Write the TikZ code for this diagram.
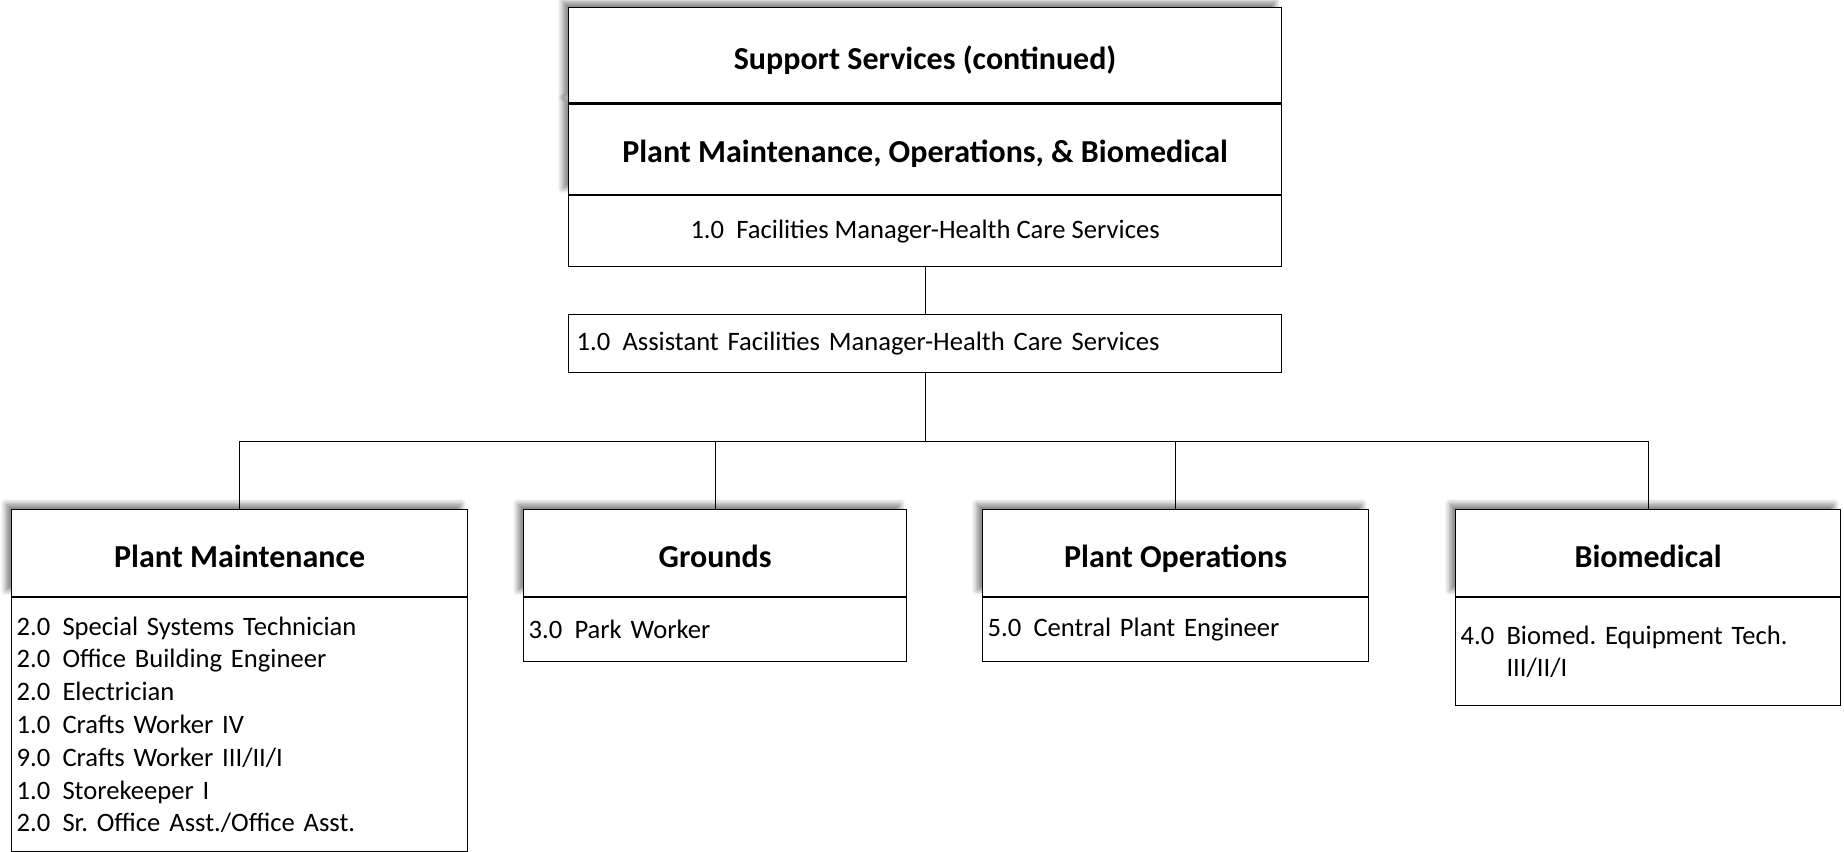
\documentclass[tikz,border=0pt]{standalone}
\usepackage{fontspec}
\setmainfont{Carlito}
\usetikzlibrary{positioning,shadows.blur}
\frenchspacing
\newcommand{\ftegap}{\hspace{0.46em}}

\begin{document}
\begin{tikzpicture}[x=0.5pt,y=-0.5pt,line width=0.6pt,
  every node/.style={font=\fontsize{13.3}{16.4}\selectfont},
  headbox/.style={draw,fill=white,inner sep=0pt,text height=14pt,text depth=0pt,
    font=\fontsize{16}{19}\selectfont\bfseries,
    blur shadow={shadow xshift=-3pt,shadow yshift=3pt,shadow blur radius=2.5pt,shadow opacity=45}},
  listbox/.style={draw,fill=white,inner xsep=2.5pt,inner ysep=0pt,align=left}]
\useasboundingbox (0,0) rectangle (1844,852);
% top box
\node[headbox,anchor=north west,minimum width=356.5pt,minimum height=45.25pt,text height=13pt] (dept) at (568,103.5) {Plant Maintenance, Operations, \& Biomedical};
\node[headbox,minimum width=356.5pt,minimum height=47.75pt,above=0pt of dept] (title) {Support Services (continued)};
\node[draw,fill=white,inner sep=0pt,minimum width=356.5pt,minimum height=35.5pt,below=0pt of dept] (mgr) {1.0\ftegap Facilities Manager-Health Care Services};
\node[listbox,anchor=north west,inner xsep=4pt,text width=348.5pt,minimum height=29pt] (asst) at (568,314) {1.0\ftegap Assistant Facilities Manager-Health Care Services};
% units
\node[headbox,anchor=north west,minimum width=228pt,minimum height=43.5pt] (pmhead) at (11,509) {Plant Maintenance};
\node[listbox,text width=223pt,minimum height=127pt,below=0pt of pmhead] (pmlist) {2.0\ftegap Special Systems Technician\\
2.0\ftegap Office Building Engineer\\
2.0\ftegap Electrician\\
1.0\ftegap Crafts Worker IV\\
9.0\ftegap Crafts Worker III/II/I\\
1.0\ftegap Storekeeper I\\
2.0\ftegap Sr. Office Asst./Office Asst.};
\node[headbox,anchor=north west,minimum width=191.5pt,minimum height=43.5pt] (grhead) at (523,509) {Grounds};
\node[listbox,text width=186.5pt,minimum height=32pt,below=0pt of grhead] (grlist) {3.0\ftegap Park Worker};
\node[headbox,anchor=north west,minimum width=193pt,minimum height=43.5pt] (ophead) at (982,509) {Plant Operations};
\node[listbox,text width=188pt,minimum height=32pt,below=0pt of ophead] (oplist) {5.0\ftegap Central Plant Engineer};
\node[headbox,anchor=north west,minimum width=192.5pt,minimum height=43.5pt] (biohead) at (1455,509) {Biomedical};
\node[listbox,text width=187.5pt,minimum height=54pt,below=0pt of biohead] (biolist) {4.0\ftegap Biomed. Equipment Tech.\\
\phantom{4.0\ftegap}III/II/I};
% connectors
\coordinate[below=34pt of asst.south] (bus);
\draw (mgr.south) -- (asst.north);
\draw (asst.south) -- (bus);
\draw (pmhead.north) |- (bus) -| (biohead.north);
\draw (grhead.north) -- (grhead.north |- bus);
\draw (ophead.north) -- (ophead.north |- bus);
\end{tikzpicture}
\end{document}
